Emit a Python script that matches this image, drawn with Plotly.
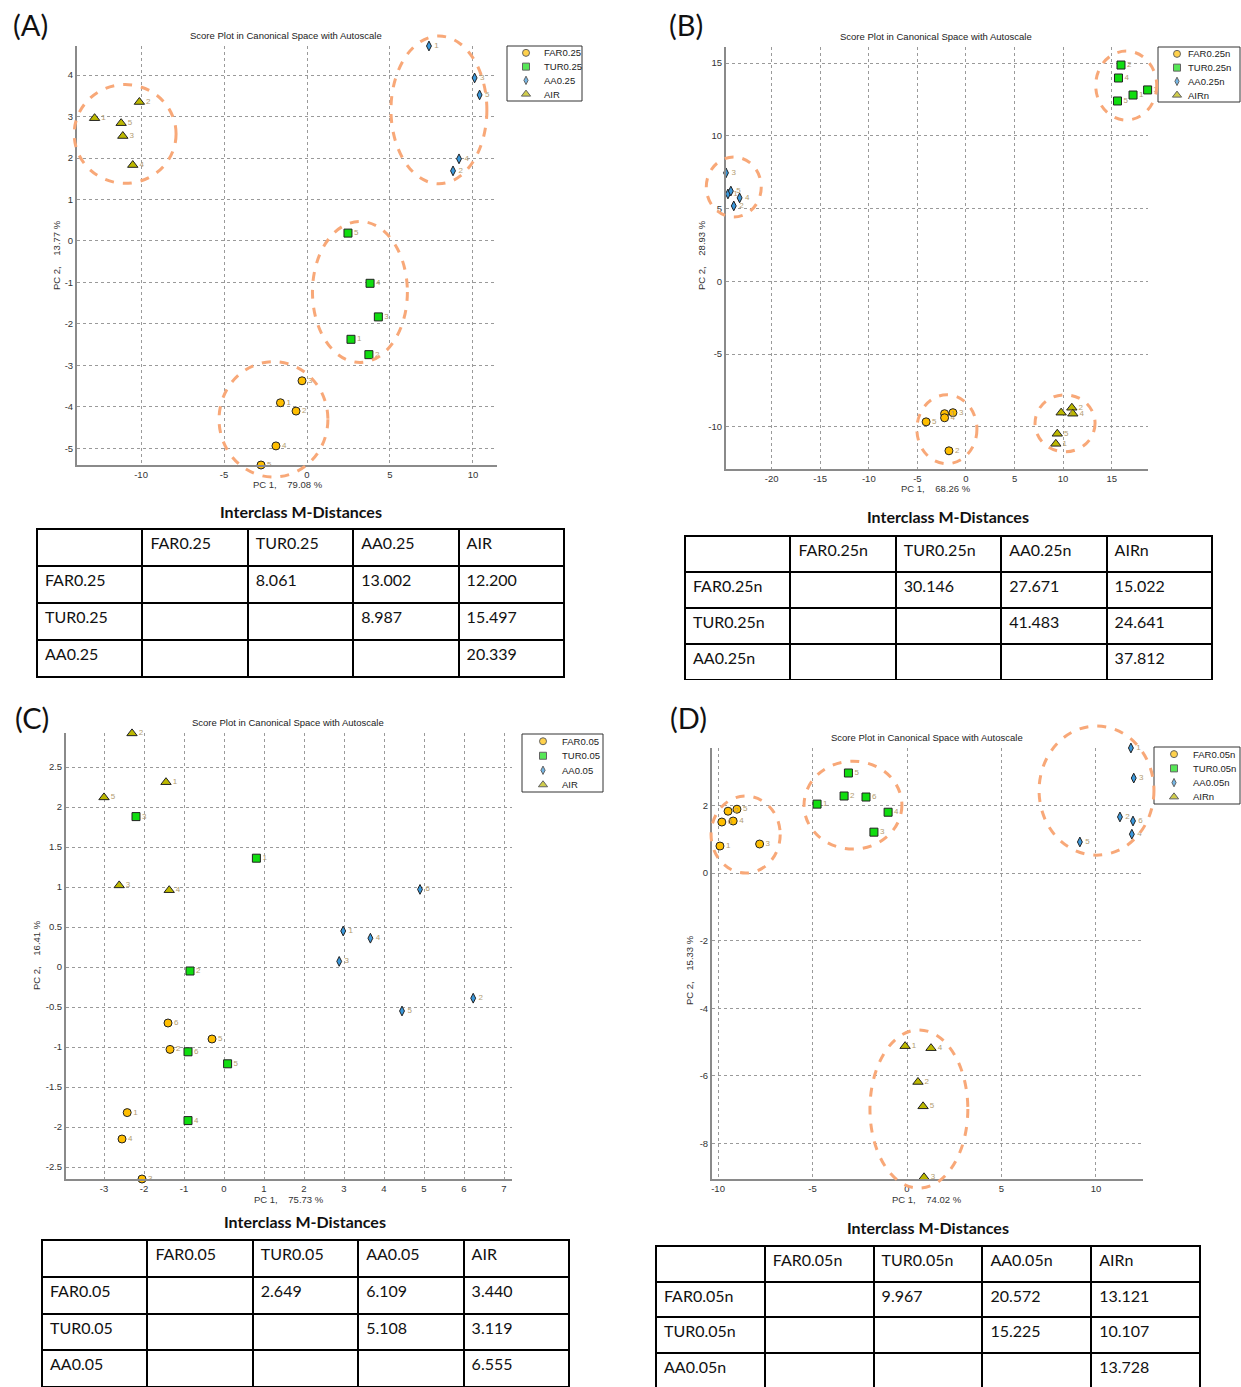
import plotly.graph_objects as go

W, H = 1241, 1387

# ---------------- data ----------------
SERIES = ["FAR", "TUR", "AA", "AIR"]

# Panel A
A_names = ["FAR0.25", "TUR0.25", "AA0.25", "AIR"]
A_FAR_x = [-1.6, -0.66, -0.3, -1.87, -2.77]
A_FAR_y = [-3.9, -4.1, -3.37, -4.94, -5.4]
A_TUR_x = [2.65, 3.73, 4.3, 3.8, 2.47]
A_TUR_y = [-2.37, -2.74, -1.83, -1.02, 0.19]
A_AA_x = [7.35, 8.8, 10.1, 9.16, 10.4]
A_AA_y = [4.70, 1.69, 3.93, 1.98, 3.52]
A_AIR_x = [-12.8, -10.1, -11.1, -10.5, -11.2]
A_AIR_y = [2.96, 3.35, 2.53, 1.83, 2.84]
A_ell_cx = [-2.02, 3.19, 7.95, -10.96]
A_ell_cy = [-4.30, -1.23, 3.16, 2.58]
A_ell_rx = [3.28, 2.86, 2.89, 3.07]
A_ell_ry = [1.39, 1.70, 1.78, 1.19]
A_xticks = [-10, -5, 0, 5, 10]
A_yticks = [-5, -4, -3, -2, -1, 0, 1, 2, 3, 4]
A_xtitle = "PC 1,    79.08 %"
A_ytitle = "PC 2,    13.77 %"

# Panel B
B_names = ["FAR0.25n", "TUR0.25n", "AA0.25n", "AIRn"]
B_FAR_x = [-2.2, -1.75, -1.34, -2.2, -4.1]
B_FAR_y = [-9.1, -11.65, -9.03, -9.38, -9.66]
B_TUR_x = [17.2, 15.96, 18.7, 15.7, 15.6]
B_TUR_y = [12.8, 14.86, 13.15, 13.97, 12.39]
B_AA_x = [-24.5, -23.9, -24.7, -23.3, -24.2]
B_AA_y = [6.0, 5.18, 7.45, 5.73, 6.2]
B_AIR_x = [9.25, 10.9, 9.8, 11.0, 9.4]
B_AIR_y = [-11.17, -8.69, -9.03, -9.1, -10.48]
B_ell_cx = [-1.96, 16.5, -23.9, 10.2]
B_ell_cy = [-10.17, 13.45, 6.48, -9.76]
B_ell_rx = [3.09, 3.14, 2.83, 3.09]
B_ell_ry = [2.37, 2.37, 2.06, 1.96]
B_xticks = [-20, -15, -10, -5, 0, 5, 10, 15]
B_yticks = [-10, -5, 0, 5, 10, 15]
B_xtitle = "PC 1,    68.26 %"
B_ytitle = "PC 2,    28.93 %"

# Panel C
C_names = ["FAR0.05", "TUR0.05", "AA0.05", "AIR"]
C_FAR_x = [-2.42, -1.35, -2.05, -2.55, -0.3, -1.4]
C_FAR_y = [-1.82, -1.03, -2.65, -2.15, -0.9, -0.70]
C_TUR_x = [0.81, -0.85, -2.2, -0.9, 0.09, -0.9]
C_TUR_y = [1.36, -0.05, 1.88, -1.92, -1.21, -1.06]
C_AA_x = [2.98, 6.23, 2.88, 3.66, 4.45, 4.9]
C_AA_y = [0.45, -0.39, 0.07, 0.36, -0.55, 0.97]
C_AIR_x = [-1.45, -2.3, -2.62, -1.37, -3.0]
C_AIR_y = [2.31, 2.92, 1.02, 0.96, 2.12]
C_ell_cx, C_ell_cy, C_ell_rx, C_ell_ry = [], [], [], []
C_xticks = [-3, -2, -1, 0, 1, 2, 3, 4, 5, 6, 7]
C_yticks = [-2.5, -2, -1.5, -1, -0.5, 0, 0.5, 1, 1.5, 2, 2.5]
C_xtitle = "PC 1,    75.73 %"
C_ytitle = "PC 2,    16.41 %"

# Panel D
D_names = ["FAR0.05n", "TUR0.05n", "AA0.05n", "AIRn"]
D_FAR_x = [-9.9, -9.47, -7.8, -9.2, -9.0, -9.8]
D_FAR_y = [0.8, 1.83, 0.86, 1.54, 1.89, 1.51]
D_TUR_x = [-4.76, -3.33, -1.75, -1.0, -3.1, -2.17]
D_TUR_y = [2.04, 2.28, 1.21, 1.8, 2.96, 2.25]
D_AA_x = [11.85, 11.27, 12.0, 11.9, 9.15, 11.96]
D_AA_y = [3.7, 1.66, 2.81, 1.15, 0.92, 1.54]
D_AIR_x = [-0.1, 0.58, 0.9, 1.27, 0.85]
D_AIR_y = [-5.12, -6.18, -9.0, -5.18, -6.9]
D_ell_cx = [-8.54, -2.86, 10.03, 0.63]
D_ell_cy = [1.14, 2.01, 2.44, -6.98]
D_ell_rx = [1.83, 2.59, 3.04, 2.59]
D_ell_ry = [1.14, 1.30, 1.91, 2.34]
D_xticks = [-10, -5, 0, 5, 10]
D_yticks = [-8, -6, -4, -2, 0, 2]
D_xtitle = "PC 1,    74.02 %"
D_ytitle = "PC 2,    15.33 %"

# Tables (upper-triangular M-distances)
A_tab = [["", "8.061", "13.002", "12.200"], ["", "", "8.987", "15.497"], ["", "", "", "20.339"]]
B_tab = [["", "30.146", "27.671", "15.022"], ["", "", "41.483", "24.641"], ["", "", "", "37.812"]]
C_tab = [["", "2.649", "6.109", "3.440"], ["", "", "5.108", "3.119"], ["", "", "", "6.555"]]
D_tab = [["", "9.967", "20.572", "13.121"], ["", "", "15.225", "10.107"], ["", "", "", "13.728"]]

TITLE = "Score Plot in Canonical Space with Autoscale"
TABLE_TITLE = "<b>Interclass M-Distances</b>"
PANEL_LABELS = ["(A)", "(B)", "(C)", "(D)"]

# ---------------- styles ----------------
COLORS = {"FAR": "#FFBE00", "TUR": "#10DD10", "AA": "#3A98DC", "AIR": "#BDB800"}
SYMBOLS = {"FAR": "circle", "TUR": "square", "AA": "diamond-tall", "AIR": "triangle-up"}
SIZES = {"FAR": 8, "TUR": 8, "AA": 7, "AIR": 9}
LABEL_COLOR = "#B39C70"
ELL_COLOR = "#F8A878"
FONT = "Liberation Sans, Arial, sans-serif"
TFONT = "Lato, sans-serif"

panels = [
    dict(names=A_names, data=[(A_FAR_x, A_FAR_y), (A_TUR_x, A_TUR_y), (A_AA_x, A_AA_y), (A_AIR_x, A_AIR_y)],
         ell=(A_ell_cx, A_ell_cy, A_ell_rx, A_ell_ry), box=(77, 497, 46, 465),
         xr=[-13.86, 11.45], yr=[-5.40, 4.70], xt=A_xticks, yt=A_yticks,
         xtitle=A_xtitle, ytitle=A_ytitle, title_xy=(286, 35), xtitle_xy=(288, 484), ytitle_xy=(56, 255),
         legend_box=(507, 582, 46, 101), legend_off=(19, 35), label_xy=(30, 25),
         tab=A_tab, tab_box=(37, 564, 529, 678), tab_title_xy=(301, 511), rowh=37),
    dict(names=B_names, data=[(B_FAR_x, B_FAR_y), (B_TUR_x, B_TUR_y), (B_AA_x, B_AA_y), (B_AIR_x, B_AIR_y)],
         ell=(B_ell_cx, B_ell_cy, B_ell_rx, B_ell_ry), box=(726, 1148, 47, 469),
         xr=[-24.7, 18.74], yr=[-12.9, 16.1], xt=B_xticks, yt=B_yticks,
         xtitle=B_xtitle, ytitle=B_ytitle, title_xy=(936, 36), xtitle_xy=(936, 488), ytitle_xy=(701, 255),
         legend_box=(1158, 1240, 47, 102), legend_off=(19, 28), label_xy=(686, 25),
         tab=B_tab, tab_box=(685, 1212, 536, 680), tab_title_xy=(948, 517), rowh=36),
    dict(names=C_names, data=[(C_FAR_x, C_FAR_y), (C_TUR_x, C_TUR_y), (C_AA_x, C_AA_y), (C_AIR_x, C_AIR_y)],
         ell=(C_ell_cx, C_ell_cy, C_ell_rx, C_ell_ry), box=(66, 512, 733, 1179),
         xr=[-3.95, 7.2], yr=[-2.65, 2.925], xt=C_xticks, yt=C_yticks,
         xtitle=C_xtitle, ytitle=C_ytitle, title_xy=(288, 722), xtitle_xy=(289, 1199), ytitle_xy=(36, 955),
         legend_box=(522, 603, 734, 792), legend_off=(21, 38), label_xy=(32, 717),
         tab=C_tab, tab_box=(42, 569, 1240, 1387), tab_title_xy=(305, 1221), rowh=36.8),
    dict(names=D_names, data=[(D_FAR_x, D_FAR_y), (D_TUR_x, D_TUR_y), (D_AA_x, D_AA_y), (D_AIR_x, D_AIR_y)],
         ell=(D_ell_cx, D_ell_cy, D_ell_rx, D_ell_ry), box=(712, 1143, 748, 1179),
         xr=[-10.32, 12.49], yr=[-9.05, 3.70], xt=D_xticks, yt=D_yticks,
         xtitle=D_xtitle, ytitle=D_ytitle, title_xy=(927, 737), xtitle_xy=(927, 1199), ytitle_xy=(689, 970),
         legend_box=(1154, 1240, 747, 804), legend_off=(20, 37), label_xy=(688, 717),
         tab=D_tab, tab_box=(656, 1200, 1246, 1387), tab_title_xy=(928, 1227), rowh=35.5),
]


def px(x):
    return x / W


def py(y):
    return 1 - y / H


def fmt(v):
    return "%g" % v


fig = go.Figure()
annotations = []
shapes = []
layout = dict(
    width=W, height=H, margin=dict(l=0, r=0, t=0, b=0),
    paper_bgcolor="white", plot_bgcolor="rgba(0,0,0,0)",
    font=dict(family=FONT, size=9, color="#333333"),
    showlegend=False,
)

hidden = dict(visible=False, showgrid=False, zeroline=False, fixedrange=True)
EXT = 30  # px extension of the ellipse layer beyond the axes box

for i, p in enumerate(panels):
    k = "" if i == 0 else str(i + 1)
    xa, ya = "x" + k, "y" + k
    l, r, t, b = p["box"]
    axis_common = dict(
        showgrid=True, gridcolor="#9a9a9a", griddash="dot", gridwidth=1,
        showline=True, linecolor="#8a8a8a", linewidth=2, zeroline=False,
        ticks="", tickfont=dict(size=9.5, color="#333333", family=FONT), fixedrange=True,
    )
    layout["xaxis" + k] = dict(domain=[px(l), px(r)], range=p["xr"], anchor=ya,
                               tickvals=p["xt"], ticktext=[fmt(v) for v in p["xt"]], **axis_common)
    layout["yaxis" + k] = dict(domain=[py(b), py(t)], range=p["yr"], anchor=xa,
                               tickvals=p["yt"], ticktext=[fmt(v) for v in p["yt"]], **axis_common)

    # ellipse layer: same data scale, wider box so dashed ellipses are not clipped
    ek = str(i + 5)
    sx = (p["xr"][1] - p["xr"][0]) / (r - l)
    sy = (p["yr"][1] - p["yr"][0]) / (b - t)
    layout["xaxis" + ek] = dict(domain=[px(l - EXT), px(r + EXT)],
                                range=[p["xr"][0] - EXT * sx, p["xr"][1] + EXT * sx], anchor="y" + ek, **hidden)
    layout["yaxis" + ek] = dict(domain=[py(b + EXT), py(t - EXT)],
                                range=[p["yr"][0] - EXT * sy, p["yr"][1] + EXT * sy], anchor="x" + ek, **hidden)
    cx, cy, rx, ry = p["ell"]
    for j in range(len(cx)):
        shapes.append(dict(
            type="circle", xref="x" + ek, yref="y" + ek,
            x0=cx[j] - rx[j], x1=cx[j] + rx[j], y0=cy[j] - ry[j], y1=cy[j] + ry[j],
            line=dict(color=ELL_COLOR, width=3, dash="dash"), layer="above",
        ))

    # points
    for s, name, (xs, ys) in zip(SERIES, p["names"], p["data"]):
        fig.add_trace(go.Scatter(
            x=xs, y=ys, mode="markers+text", name=name, xaxis=xa, yaxis=ya,
            text=[str(n + 1) for n in range(len(xs))], textposition="middle right",
            textfont=dict(size=8, color=LABEL_COLOR, family=FONT),
            marker=dict(symbol=SYMBOLS[s], size=SIZES[s], color=COLORS[s],
                        line=dict(color="#222222", width=1)),
            cliponaxis=False, showlegend=False,
        ))

    # legend (box + symbols + names) on its own small axes, range in box pixels
    lk = str(i + 9)
    ll, lr, lt, lb = p["legend_box"]
    so, to = p["legend_off"]
    layout["xaxis" + lk] = dict(domain=[px(ll), px(lr)], range=[0, lr - ll], anchor="y" + lk, **hidden)
    layout["yaxis" + lk] = dict(domain=[py(lb), py(lt)], range=[4, 0], anchor="x" + lk, **hidden)
    shapes.append(dict(type="rect", xref="paper", yref="paper", x0=px(ll), x1=px(lr), y0=py(lb), y1=py(lt),
                       line=dict(color="#333333", width=1), fillcolor="white", layer="below"))
    nser = len(SERIES)
    fig.add_trace(go.Scatter(
        x=[so] * nser, y=[n + 0.5 for n in range(nser)], mode="markers",
        xaxis="x" + lk, yaxis="y" + lk, showlegend=False, hoverinfo="skip", cliponaxis=False,
        marker=dict(symbol=[SYMBOLS[s] for s in SERIES], size=[SIZES[s] - 1 for s in SERIES],
                    color=[COLORS[s] for s in SERIES], line=dict(color="#222222", width=1)),
    ))
    for n, name in enumerate(p["names"]):
        annotations.append(dict(text=name, x=to, y=n + 0.5, xref="x" + lk, yref="y" + lk,
                                showarrow=False, xanchor="left", yanchor="middle",
                                font=dict(size=9.5, family=FONT, color="#222222")))

    # texts
    tx, ty = p["title_xy"]
    annotations.append(dict(text=TITLE, x=px(tx), y=py(ty), xref="paper", yref="paper",
                            showarrow=False, font=dict(size=9.5, family=FONT, color="#222222"),
                            xanchor="center", yanchor="middle"))
    tx, ty = p["xtitle_xy"]
    annotations.append(dict(text=p["xtitle"], x=px(tx), y=py(ty), xref="paper", yref="paper",
                            showarrow=False, font=dict(size=9.5, family=FONT, color="#333333"),
                            xanchor="center", yanchor="middle"))
    tx, ty = p["ytitle_xy"]
    annotations.append(dict(text=p["ytitle"], x=px(tx), y=py(ty), xref="paper", yref="paper",
                            showarrow=False, textangle=-90, font=dict(size=9.5, family=FONT, color="#333333"),
                            xanchor="center", yanchor="middle"))
    tx, ty = p["label_xy"]
    annotations.append(dict(text=PANEL_LABELS[i], x=px(tx), y=py(ty), xref="paper", yref="paper",
                            showarrow=False, font=dict(size=29, family=TFONT, color="#111111"),
                            xanchor="center", yanchor="middle"))
    tx, ty = p["tab_title_xy"]
    annotations.append(dict(text=TABLE_TITLE, x=px(tx), y=py(ty), xref="paper", yref="paper",
                            showarrow=False, font=dict(size=16, family=TFONT, color="#111111"),
                            xanchor="center", yanchor="middle"))
    # table
    tl, tr, tt, tb = p["tab_box"]
    rows = list(p["names"][:3])
    header = [""] + list(p["names"])
    cols = [rows] + [[p["tab"][ri][ci] for ri in range(3)] for ci in range(4)]
    fig.add_trace(go.Table(
        domain=dict(x=[px(tl), px(tr)], y=[py(tb), py(tt)]),
        columnwidth=[1, 1, 1, 1, 1],
        header=dict(values=header, align="left", height=p["rowh"],
                    fill=dict(color="white"), line=dict(color="black", width=2),
                    font=dict(size=16, family=TFONT, color="#111111")),
        cells=dict(values=cols, align="left", height=p["rowh"],
                   fill=dict(color="white"), line=dict(color="black", width=2),
                   font=dict(size=16, family=TFONT, color="#111111")),
    ))

layout["annotations"] = annotations
layout["shapes"] = shapes
fig.update_layout(**layout)
fig.write_html("out.html", config={"displayModeBar": False},
               post_script="document.body.style.margin='0';document.body.style.overflow='hidden';")
